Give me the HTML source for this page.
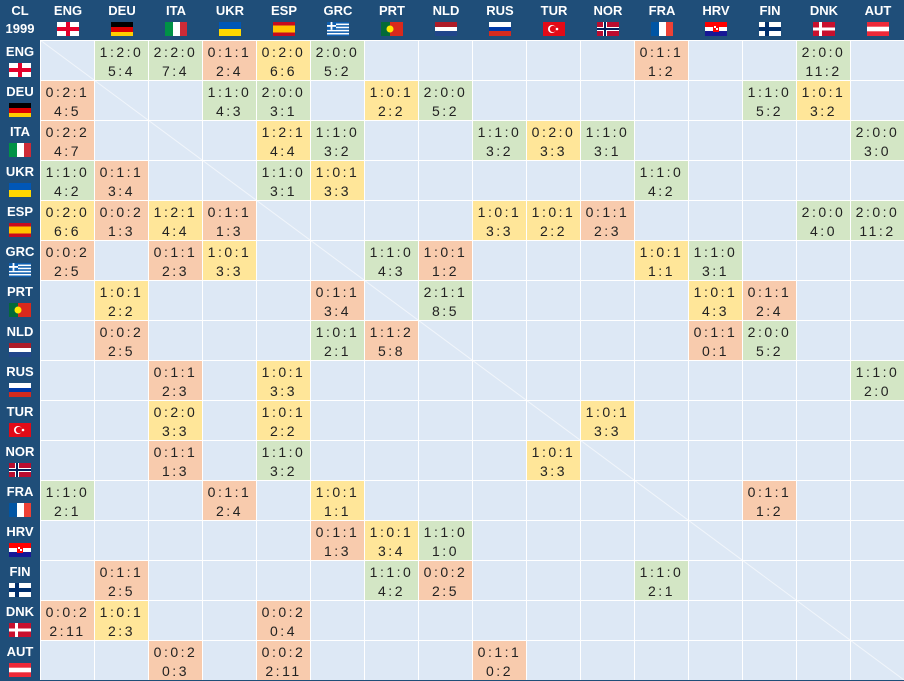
<!DOCTYPE html>
<html><head><meta charset="utf-8"><style>
body{margin:0;width:904px;height:680px;overflow:hidden;background:#1f4e79;font-family:"Liberation Sans",sans-serif}
#g{position:relative;width:904px;height:680px}
.h{position:absolute;color:#fff;font-weight:bold;font-size:13px;text-align:center;background:#1f4e79}
.c{position:absolute;box-sizing:border-box;font-size:14px;color:#222;text-align:center;letter-spacing:2.5px;line-height:19px;padding-top:2px}
svg.f{position:absolute}
</style></head><body><div id="g"></div>
<script>
const C=["ENG","DEU","ITA","UKR","ESP","GRC","PRT","NLD","RUS","TUR","NOR","FRA","HRV","FIN","DNK","AUT"];
function flag(n){const w=22,h=14;let s='';
switch(n){
case"ENG":s=`<rect width="22" height="14" fill="#fff"/><rect x="9" width="4" height="14" fill="#e4002b"/><rect y="5" width="22" height="4" fill="#e4002b"/>`;break;
case"DEU":s=`<rect width="22" height="5" fill="#000"/><rect y="5" width="22" height="5" fill="#dd0000"/><rect y="10" width="22" height="4" fill="#ffce00"/>`;break;
case"ITA":s=`<rect width="8" height="14" fill="#009246"/><rect x="8" width="7" height="14" fill="#fff"/><rect x="15" width="7" height="14" fill="#ce2b37"/>`;break;
case"UKR":s=`<rect width="22" height="7" fill="#0057b7"/><rect y="7" width="22" height="7" fill="#ffd700"/>`;break;
case"ESP":s=`<rect width="22" height="14" fill="#c60b1e"/><rect y="3.5" width="22" height="7" fill="#ffc400"/>`;break;
case"GRC":s=`<rect width="22" height="14" fill="#0d5eaf"/>`+[1,3,5,7].map(i=>`<rect y="${i*1.56}" width="22" height="1.56" fill="#fff"/>`).join('')+`<rect width="9" height="7.8" fill="#0d5eaf"/><rect x="3.6" width="1.8" height="7.8" fill="#fff"/><rect y="3" width="9" height="1.8" fill="#fff"/>`;break;
case"PRT":s=`<rect width="22" height="14" fill="#da291c"/><rect width="9" height="14" fill="#046a38"/><circle cx="9" cy="7" r="3.5" fill="#ffe900"/>`;break;
case"NLD":s=`<rect width="22" height="5" fill="#ae1c28"/><rect y="5" width="22" height="4" fill="#fff"/><rect y="9" width="22" height="5" fill="#21468b"/>`;break;
case"RUS":s=`<rect width="22" height="5" fill="#fff"/><rect y="5" width="22" height="4" fill="#0039a6"/><rect y="9" width="22" height="5" fill="#d52b1e"/>`;break;
case"TUR":s=`<rect width="22" height="14" fill="#e30a17"/><circle cx="9" cy="7" r="4" fill="#fff"/><circle cx="10" cy="7" r="3.2" fill="#e30a17"/><circle cx="14" cy="7" r="1.3" fill="#fff"/>`;break;
case"NOR":s=`<rect width="22" height="14" fill="#ba0c2f"/><rect x="6" width="4" height="14" fill="#fff"/><rect y="5" width="22" height="4" fill="#fff"/><rect x="7" width="2" height="14" fill="#00205b"/><rect y="6" width="22" height="2" fill="#00205b"/>`;break;
case"FRA":s=`<rect width="8" height="14" fill="#0055a4"/><rect x="8" width="7" height="14" fill="#fff"/><rect x="15" width="7" height="14" fill="#ef4135"/>`;break;
case"HRV":s=`<rect width="22" height="5" fill="#ff0000"/><rect y="5" width="22" height="4" fill="#fff"/><rect y="9" width="22" height="5" fill="#171796"/><rect x="8" y="3" width="6" height="7" fill="#ff0000"/><rect x="9" y="4" width="2" height="2" fill="#fff"/><rect x="11" y="6" width="2" height="2" fill="#fff"/>`;break;
case"FIN":s=`<rect width="22" height="14" fill="#fff"/><rect x="6" width="4" height="14" fill="#002f6c"/><rect y="5" width="22" height="4" fill="#002f6c"/>`;break;
case"DNK":s=`<rect width="22" height="14" fill="#c8102e"/><rect x="6" width="3" height="14" fill="#fff"/><rect y="5.5" width="22" height="3" fill="#fff"/>`;break;
case"AUT":s=`<rect width="22" height="14" fill="#ed2939"/><rect y="4.7" width="22" height="4.6" fill="#fff"/>`;break;}
return `<svg class="f" width="${w}" height="${h}" viewBox="0 0 22 14">${s}</svg>`;}
const D={
ENG:{DEU:"g1:2:0|5:4",ITA:"g2:2:0|7:4",UKR:"o0:1:1|2:4",ESP:"y0:2:0|6:6",GRC:"g2:0:0|5:2",FRA:"o0:1:1|1:2",DNK:"g2:0:0|11:2"},
DEU:{ENG:"o0:2:1|4:5",UKR:"g1:1:0|4:3",ESP:"g2:0:0|3:1",PRT:"y1:0:1|2:2",NLD:"g2:0:0|5:2",FIN:"g1:1:0|5:2",DNK:"y1:0:1|3:2"},
ITA:{ENG:"o0:2:2|4:7",ESP:"y1:2:1|4:4",GRC:"g1:1:0|3:2",RUS:"g1:1:0|3:2",TUR:"y0:2:0|3:3",NOR:"g1:1:0|3:1",AUT:"g2:0:0|3:0"},
UKR:{ENG:"g1:1:0|4:2",DEU:"o0:1:1|3:4",ESP:"g1:1:0|3:1",GRC:"y1:0:1|3:3",FRA:"g1:1:0|4:2"},
ESP:{ENG:"y0:2:0|6:6",DEU:"o0:0:2|1:3",ITA:"y1:2:1|4:4",UKR:"o0:1:1|1:3",RUS:"y1:0:1|3:3",TUR:"y1:0:1|2:2",NOR:"o0:1:1|2:3",DNK:"g2:0:0|4:0",AUT:"g2:0:0|11:2"},
GRC:{ENG:"o0:0:2|2:5",ITA:"o0:1:1|2:3",UKR:"y1:0:1|3:3",PRT:"g1:1:0|4:3",NLD:"o1:0:1|1:2",FRA:"y1:0:1|1:1",HRV:"g1:1:0|3:1"},
PRT:{DEU:"y1:0:1|2:2",GRC:"o0:1:1|3:4",NLD:"g2:1:1|8:5",HRV:"y1:0:1|4:3",FIN:"o0:1:1|2:4"},
NLD:{DEU:"o0:0:2|2:5",GRC:"g1:0:1|2:1",PRT:"o1:1:2|5:8",HRV:"o0:1:1|0:1",FIN:"g2:0:0|5:2"},
RUS:{ITA:"o0:1:1|2:3",ESP:"y1:0:1|3:3",AUT:"g1:1:0|2:0"},
TUR:{ITA:"y0:2:0|3:3",ESP:"y1:0:1|2:2",NOR:"y1:0:1|3:3"},
NOR:{ITA:"o0:1:1|1:3",ESP:"g1:1:0|3:2",TUR:"y1:0:1|3:3"},
FRA:{ENG:"g1:1:0|2:1",UKR:"o0:1:1|2:4",GRC:"y1:0:1|1:1",FIN:"o0:1:1|1:2"},
HRV:{GRC:"o0:1:1|1:3",PRT:"y1:0:1|3:4",NLD:"g1:1:0|1:0"},
FIN:{DEU:"o0:1:1|2:5",PRT:"g1:1:0|4:2",NLD:"o0:0:2|2:5",FRA:"g1:1:0|2:1"},
DNK:{ENG:"o0:0:2|2:11",DEU:"y1:0:1|2:3",ESP:"o0:0:2|0:4"},
AUT:{ITA:"o0:0:2|0:3",ESP:"o0:0:2|2:11",RUS:"o0:1:1|0:2"}};
const col={g:"#d3e6c5",o:"#f8cbad",y:"#ffe699"};
let h='';
h+=`<div class="h" style="left:0;top:0;width:40px;height:40px"><div style="position:absolute;top:3px;width:40px">CL</div><div style="position:absolute;top:21px;width:40px">1999</div></div>`;
C.forEach((c,i)=>{const x=41+54*i;
h+=`<div class="h" style="left:${x}px;top:0;width:54px;height:40px"><div style="position:absolute;top:3px;width:54px">${c}</div><div style="position:absolute;left:16px;top:22px">${flag(c)}</div></div>`;
const y=41+40*i;
h+=`<div class="h" style="left:0;top:${y}px;width:40px;height:40px"><div style="position:absolute;top:3px;width:40px">${c}</div><div style="position:absolute;left:9px;top:22px">${flag(c)}</div></div>`;});
h+=`<div style="position:absolute;left:40px;top:40px;width:864px;height:640px;background:#fff"></div>`;
C.forEach((r,ri)=>C.forEach((c,ci)=>{const x=41+54*ci,y=41+40*ri;const v=D[r][c];
let bg="#dde8f5",t="";if(v){bg=col[v[0]];const p=v.slice(1).split("|");t=p[0]+"<br>"+p[1];}
h+=`<div class="c" style="left:${x}px;top:${y}px;width:53px;height:39px;background:${bg}">${t}</div>`;}));
h+=`<svg style="position:absolute;left:40px;top:40px" width="864" height="640"><line x1="0" y1="0" x2="864" y2="640" stroke="#fff" stroke-width="1" opacity="0.6"/></svg>`;
document.getElementById("g").innerHTML=h;
</script></body></html>
